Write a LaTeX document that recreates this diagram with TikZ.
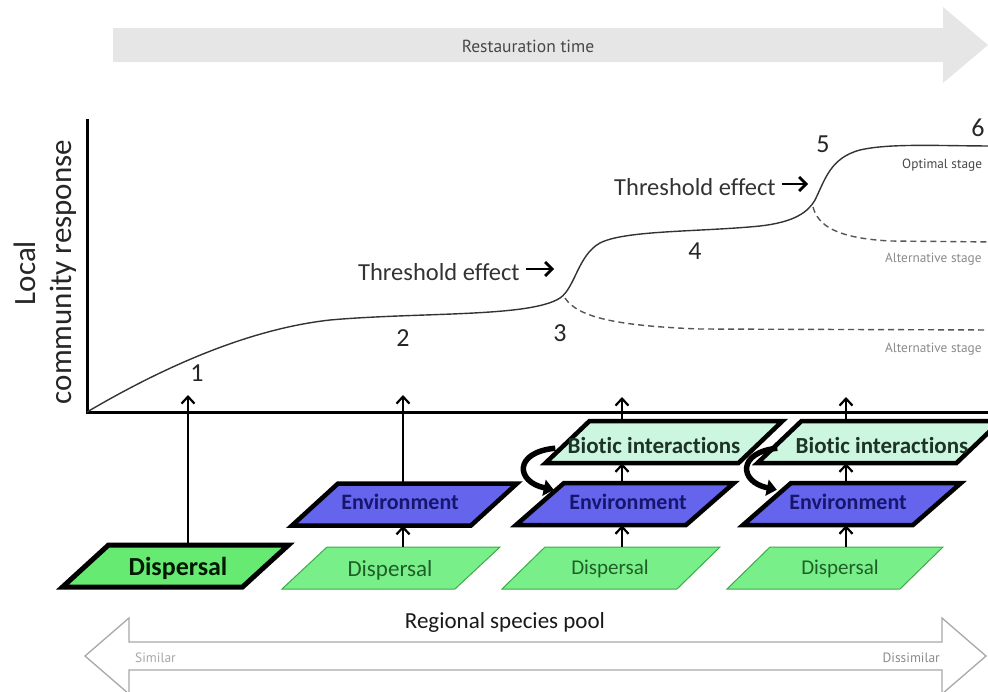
\documentclass[tikz,border=0pt]{standalone}
\usepackage{fontspec}
\setmainfont[Ligatures=NoCommon]{Carlito}
\newfontfamily\smallsans{PT Sans}
\usetikzlibrary{arrows.meta}
\definecolor{topgray}{HTML}{E6E6E6}
\definecolor{rtgray}{HTML}{484848}
\definecolor{curvecol}{HTML}{333333}
\definecolor{dashcol}{HTML}{555555}
\definecolor{dispone}{HTML}{66EA72}
\definecolor{dispfill}{HTML}{78EF88}
\definecolor{dispedge}{HTML}{3DAA4A}
\definecolor{disptxt}{HTML}{1E5E28}
\definecolor{envfill}{HTML}{6464EC}
\definecolor{envtxt}{HTML}{16166E}
\definecolor{biofill}{HTML}{CCF6E0}
\definecolor{biotxt}{HTML}{1C3326}
\definecolor{botgray}{HTML}{A8A8A8}
\definecolor{altgray}{HTML}{8A8A8A}
\newcommand{\pgram}[6]{%
  \path[#6] ({#2-#4/2-#5},{#3+21}) -- ({#2+#4/2-#5},{#3+21}) -- ({#2+#4/2+#5},{#3-21}) -- ({#2-#4/2+#5},{#3-21}) -- cycle;
  \node[inner sep=0pt, minimum width=#4pt, minimum height=42pt] (#1) at (#2,#3) {};%
}
\begin{document}
\begin{tikzpicture}[x=1pt,y=-1pt,
  axisline/.style={line width=3pt, black, line cap=rect},
  curveline/.style={line width=1.4pt, curvecol},
  dashline/.style={line width=1.4pt, dashcol, dash pattern=on 6pt off 4pt},
  uparrow/.style={line width=2.2pt, -{Straight Barb[length=7pt,width=13pt]}},
  thrarrow/.style={line width=2.8pt, -{Straight Barb[length=7pt,width=14pt]}},
  curvarrow/.style={line width=5.5pt, -{Triangle[length=10pt,width=16pt]}},
  dispthin/.style={fill=dispfill, draw=dispedge, line width=1pt},
  envshape/.style={fill=envfill, draw=black, line width=4.5pt, line join=miter},
  bioshape/.style={fill=biofill, draw=black, line width=4.5pt, line join=miter},
  plain/.style={inner sep=0pt},
  numtxt/.style={plain, font=\fontsize{26}{26}\selectfont, text=black!85},
  thrtxt/.style={plain, font=\fontsize{24.5}{24.5}\selectfont, text=black!80},
  ylab/.style={plain, rotate=90, font=\fontsize{31}{31}\selectfont, text=black!85},
  stagetxt/.style={plain, anchor=west, font=\smallsans\fontsize{13.3}{13.3}\selectfont},
  envlab/.style={plain, font=\fontsize{22}{22}\selectfont\bfseries, text=envtxt},
  biolab/.style={plain, font=\fontsize{23}{23}\selectfont\bfseries, text=biotxt},
  displab/.style={plain, font=\fontsize{21}{21}\selectfont, text=disptxt},
  displabbig/.style={plain, font=\fontsize{26}{26}\selectfont\bfseries, text=black!90!green}
]
\useasboundingbox (0,0) rectangle (988,691);
\clip (0,0) rectangle (988,691);

% restauration time arrow
\fill[topgray] (113,28) -- (943,28) -- (943,7) -- (988,45) -- (943,83) -- (943,62) -- (113,62) -- cycle;
\node[plain, font=\smallsans\fontsize{17.5}{17.5}\selectfont, text=rtgray] (rt) at (528,46) {Restauration time};

% axes
\coordinate (origin) at (87,412);
\coordinate (ytop) at (87,120);
\coordinate (xend) at (990,412);
\draw[axisline] (ytop) -- (origin) -- (xend);
\node[ylab] (ylocal) at (25,273) {Local};
\node[ylab] (ycomm) at (63,272) {community response};

% response curve
\draw[curveline] (origin) .. controls (150,375) and (240,330) .. (330,320)
  .. controls (420,312) and (530,317.5) .. (560,298)
  .. controls (575,288) and (578,255) .. (600,243)
  .. controls (625,230) and (700,232) .. (760,226)
  .. controls (795,222) and (808,212) .. (815,200)
  .. controls (825,180) and (830,158) .. (860,150)
  .. controls (890,143) and (940,146) .. (995,146);
\draw[dashline] (565,298) .. controls (578,318) and (620,326) .. (700,329) -- (995,330);
\draw[dashline] (813,207) .. controls (818,225) and (835,238) .. (890,241) -- (995,242);

% numbers
\node[numtxt] (n1) at (197,373) {1};
\node[numtxt] (n2) at (403,338) {2};
\node[numtxt] (n3) at (560,333) {3};
\node[numtxt] (n4) at (695,251) {4};
\node[numtxt] (n5) at (823,144) {5};
\node[numtxt] (n6) at (978,128) {6};

% threshold labels
\node[thrtxt, anchor=west] (th1) at (358,272) {Threshold effect};
\coordinate (th1end) at (554,269);
\draw[thrarrow] ([xshift=6pt]th1.east |- th1end) -- (th1end);
\node[thrtxt, anchor=west] (th2) at (614,187) {Threshold effect};
\coordinate (th2end) at (808,184);
\draw[thrarrow] ([xshift=6pt]th2.east |- th2end) -- (th2end);

% stage labels
\node[stagetxt, text=black!72] (opt) at (902,165) {Optimal stage};
\node[stagetxt, text=altgray] (alt1) at (885,259) {Alternative stage};
\node[stagetxt, text=altgray] (alt2) at (885,349) {Alternative stage};

% parallelograms
\pgram{d1}{175.5}{566}{180}{23}{fill=dispone, draw=black, line width=5pt, line join=miter}
\pgram{d2}{391}{568}{173}{22.5}{dispthin}
\pgram{d3}{611}{568}{175}{21.5}{dispthin}
\pgram{d4}{835}{568}{173}{21.5}{dispthin}
\pgram{e1}{404.5}{504.5}{179}{23}{envshape}
\pgram{e2}{625}{504}{170}{24}{envshape}
\pgram{e3}{852}{504}{170}{24}{envshape}
\pgram{b2}{664}{442}{193}{22}{bioshape}
\pgram{b3}{879}{442}{199}{22}{bioshape}

\node[displabbig] (d1t) at (178,568) {Dispersal};
\node[displab, font=\fontsize{23}{23}\selectfont] (d2t) at (390,570) {Dispersal};
\node[displab] (d3t) at (610,569) {Dispersal};
\node[displab] (d4t) at (840,569) {Dispersal};
\node[envlab] (e1t) at (400,502) {Environment};
\node[envlab] (e2t) at (628,502) {Environment};
\node[envlab] (e3t) at (848,502) {Environment};
\node[biolab] (b2t) at (654,446) {Biotic interactions};
\node[biolab] (b3t) at (882,446) {Biotic interactions};

% vertical arrows
\coordinate (c1) at (188,395);
\coordinate (c2) at (403,395);
\coordinate (c3) at (622,397);
\coordinate (c4) at (846,397);
\draw[uparrow] (c1 |- d1.north) -- (c1);
\draw[uparrow] (c2 |- d2.north) -- (c2 |- e1.south);
\draw[uparrow] (c2 |- e1.north) -- (c2);
\draw[uparrow] (c3 |- d3.north) -- (c3 |- e2.south);
\draw[uparrow] (c3 |- e2.north) -- (c3 |- b2.south);
\draw[uparrow] (c3 |- b2.north) -- (c3);
\draw[uparrow] (c4 |- d4.north) -- (c4 |- e3.south);
\draw[uparrow] (c4 |- e3.north) -- (c4 |- b3.south);
\draw[uparrow] (c4 |- b3.north) -- (c4);

% curved arrows biotic -> environment
\draw[curvarrow] ([shift={(-12,-15)}]b2.south west) .. controls +(-42,4) and +(-38,-8) .. ([shift={(14,7)}]e2.north west);
\draw[curvarrow] ([shift={(-2,-15)}]b3.south west) .. controls +(-40,4) and +(-38,-8) .. ([shift={(10,7)}]e3.north west);

% regional species pool
\node[plain, font=\fontsize{23}{23}\selectfont, text=black!90] (rsp) at (505,622) {Regional species pool};
\draw[fill=white, draw=botgray, line width=1.3pt, line join=miter]
  (85,656) -- (129,618) -- (129,642) -- (942,642) -- (942,618) -- (986,656) -- (942,694) -- (942,670) -- (129,670) -- (129,694) -- cycle;
\node[plain, anchor=west, font=\smallsans\fontsize{13.5}{13.5}\selectfont, text=botgray] (sim) at (135,658) {Similar};
\node[plain, anchor=east, font=\smallsans\fontsize{13.5}{13.5}\selectfont, text=black!45] (dis) at (940,658) {Dissimilar};
\end{tikzpicture}
\end{document}
